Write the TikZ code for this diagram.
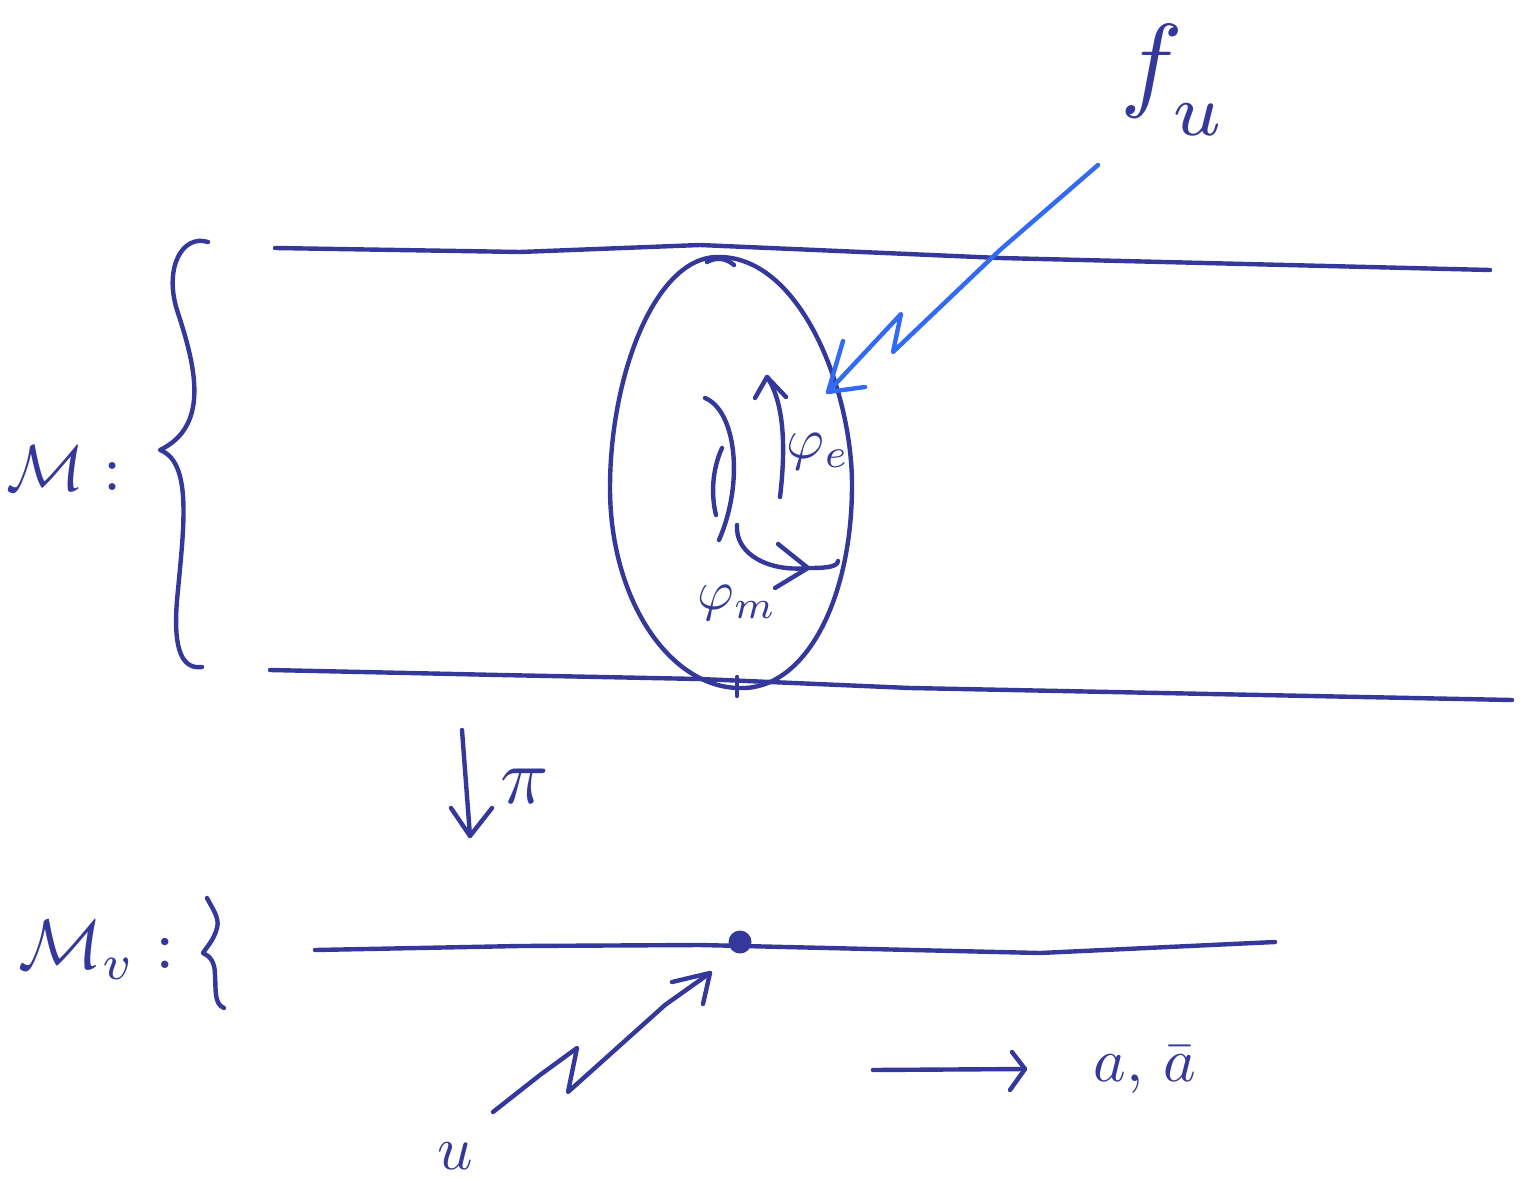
\documentclass[tikz,border=0pt]{standalone}
\usepackage{amsmath}
\usetikzlibrary{arrows.meta}
\definecolor{ink}{RGB}{52,56,154}
\definecolor{lightink}{RGB}{50,105,245}
\tikzset{
  pen/.style={draw=ink, line width=4.4pt, line cap=round, line join=round},
  bluepen/.style={draw=lightink, line width=4.4pt, line cap=round, line join=round},
  lbl/.style={text=ink, inner sep=0pt, scale=#1/10},
  lbl/.default=60
}
\begin{document}
\begin{tikzpicture}[x=1pt,y=-1pt]
\useasboundingbox (0,0) rectangle (1525,1182);
% upper strip
\draw[pen] (275,248) -- (520,252) -- (700,245) -- (1000,258) -- (1490,270);
\draw[pen] (270,670) -- (500,675) -- (700,679) -- (910,688) -- (1512,700);
% left brace
\draw[pen] (208,242) .. controls (182,234) and (164,268) .. (177,310)
  .. controls (194,362) and (212,425) .. (160,450)
  .. controls (192,462) and (184,525) .. (178,590)
  .. controls (172,645) and (180,670) .. (202,667);
% fiber ellipse
\draw[pen] (716,257) .. controls (800,254) and (852,390) .. (852,485)
  .. controls (852,600) and (805,690) .. (740,688)
  .. controls (670,688) and (610,600) .. (610,488)
  .. controls (610,375) and (655,259) .. (716,257);
\draw[pen] (707,262) .. controls (716,257) and (726,258) .. (734,265);
\draw[pen] (737,677) -- (737,696);
% inner arcs
\draw[pen] (705,398) .. controls (735,410) and (745,480) .. (719,540);
\draw[pen] (722,448) .. controls (712,470) and (711,495) .. (716,515);
% phi_e arrow
\coordinate (pe0) at (780,497);
\coordinate (pe1) at (767,377);
\draw[pen] (pe0) .. controls (785,455) and (786,405) .. (pe1);
\draw[pen] (755,398) -- (pe1) -- (786,397);
\node[lbl=58] (phie) at (818,452) {$\varphi_e$};
% phi_m arrow
\coordinate (pm0) at (737,525);
\coordinate (pm1) at (808,568);
\coordinate (pm2) at (838,561);
\draw[pen] (pm0) .. controls (735,555) and (770,572) .. (pm1) .. controls (820,568) and (838,568) .. (pm2);
\draw[pen] (778,544) -- (pm1) -- (775,588);
\node[lbl=56] (phim) at (737,603) {$\varphi_m$};
% light blue zigzag arrow
\coordinate (f0) at (1098,165);
\coordinate (fz1) at (893,352);
\coordinate (fz2) at (901,314);
\coordinate (ftip) at (828,392);
\draw[bluepen] (f0) -- (1000,250) -- (fz1) -- (fz2) -- (ftip);
\draw[bluepen] (843,341) -- (ftip) -- (865,387);
\node[lbl=105] (fu) at (1174,80) {$f_{\raisebox{-0.5ex}{$\scriptstyle u$}}$};
% labels for spaces
\node[lbl=65] (Mc) at (64,468) {$\mathcal{M}\;{:}$};
% projection
\coordinate (p0) at (462,730);
\coordinate (p1) at (470,836);
\draw[pen] (p0) -- (p1);
\draw[pen] (451,808) -- (p1) -- (492,808);
\node[lbl=80] (pi) at (525,786) {$\pi$};
% base line
\draw[pen] (315,950) -- (520,946) -- (700,945) -- (1040,953) -- (1275,942);
\node[circle, fill=ink, inner sep=0pt, minimum width=19pt, minimum height=23pt] (pt) at (740,942) {};
\node[lbl=70] (Mv) at (97,950) {$\mathcal{M}_v\;{:}$};
\draw[pen] (207,898) .. controls (212,908) and (220,918) .. (217,928)
  .. controls (214,940) and (206,948) .. (203,953)
  .. controls (210,956) and (215,962) .. (215,975)
  .. controls (216,990) and (214,1004) .. (224,1008);
% u arrow
\coordinate (u0) at (493,1112);
\coordinate (uz1) at (577,1048);
\coordinate (uz2) at (568,1092);
\coordinate (utip) at (710,973);
\draw[pen] (u0) -- (540,1075) -- (uz1) -- (uz2) -- (665,1005) -- (utip);
\draw[pen] (672,982) -- (utip) -- (703,1004);
\node[lbl=62] (u) at (455,1156) {$u$};
% a, abar arrow
\coordinate (a0) at (873,1070);
\coordinate (a1) at (1025,1069);
\draw[pen] (a0) -- (a1);
\draw[pen] (1012,1052) -- (a1) -- (1010,1090);
\node[lbl=62] (aa) at (1145,1070) {$a,\,\bar{a}$};
\end{tikzpicture}
\end{document}
